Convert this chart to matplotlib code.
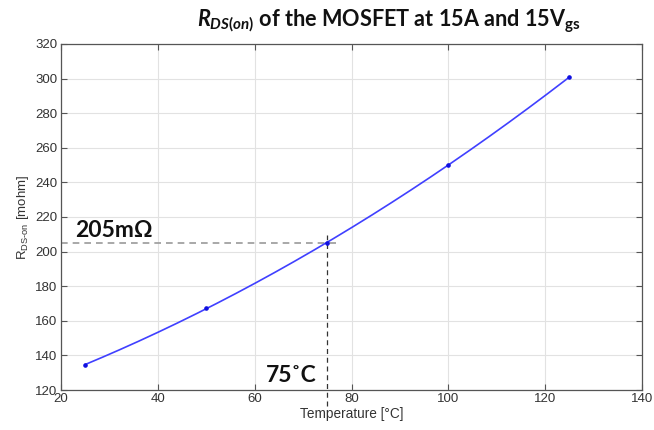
import numpy as np
import matplotlib
matplotlib.use("Agg")
import matplotlib.pyplot as plt

# Measured on-resistance vs junction temperature
temperature_c = [25, 50, 75, 100, 125]
rds_on_mohm = [134.5, 167.6, 205, 250, 301]

x_ticks = [20, 40, 60, 80, 100, 120, 140]
y_ticks = [120, 140, 160, 180, 200, 220, 240, 260, 280, 300, 320]

marked_temp = 75
marked_rds = 205

plt.rcParams["mathtext.fontset"] = "custom"
plt.rcParams["mathtext.it"] = "Lato:bold:italic"
plt.rcParams["mathtext.rm"] = "Lato:bold"
plt.rcParams["mathtext.bf"] = "Lato:bold"

fig = plt.figure(figsize=(6.54, 4.30), dpi=100)
ax = fig.add_axes([0.0933, 0.093, 0.8884, 0.8047])

# smooth trend line through the measurements
coef = np.polyfit(temperature_c, rds_on_mohm, 2)
xs = np.linspace(min(temperature_c), max(temperature_c), 200)
ax.plot(xs, np.polyval(coef, xs), color="#4040ff", lw=1.2, zorder=3)
ax.plot(temperature_c, rds_on_mohm, ls="none", marker="o", ms=2.3,
        color="#1010e0", zorder=4)

# guide lines at the operating point
ax.plot([20, marked_temp + 2.6], [marked_rds, marked_rds], ls=(0, (4, 3)),
        color="#9a9a9a", lw=1.2, zorder=2)
ax.plot([marked_temp, marked_temp], [111, marked_rds + 4.6], ls=(0, (4, 3)),
        color="#333333", lw=0.9, zorder=2, clip_on=False)

ax.text(23.0, 208.3, f"{marked_rds}m\u03a9", fontsize=16.5, fontweight="bold",
        family=["Lato", "DejaVu Sans"], color="#111111", va="baseline", ha="left")
ax.text(72.7, 124.6, f"{marked_temp}\u02daC", fontsize=16.5, fontweight="bold",
        family=["Lato", "DejaVu Sans"], color="#111111", va="baseline", ha="right")

ax.set_xlim(20, 140)
ax.set_ylim(120, 320)
ax.set_xticks(x_ticks)
ax.set_yticks(y_ticks)
ax.grid(True, color="#e2e2e2", lw=0.8, zorder=0)
ax.tick_params(direction="in", length=4.5, width=0.8, top=True, right=True,
               labelsize=9.5, labelcolor="#333333", color="#555555", pad=2.5)
for sp in ax.spines.values():
    sp.set_color("#555555")
    sp.set_linewidth(0.9)
for lab in ax.get_xticklabels() + ax.get_yticklabels():
    lab.set_family(["Liberation Sans", "DejaVu Sans"])

ax.set_xlabel("Temperature [\u00b0C]", fontsize=9.8, color="#333333",
              family=["Liberation Sans", "DejaVu Sans"], labelpad=1)
ax.set_ylabel("R$_{\\mathregular{DS\u2010on}}$ [mohm]", fontsize=9.5, color="#333333",
              family=["Liberation Sans", "DejaVu Sans"], labelpad=3)

fig.text(0.594, 0.95, r"$\mathit{R_{DS(on)}}$ of the MOSFET at 15A and 15V$_{\mathregular{gs}}$",
         fontsize=15.6, fontweight="bold", family=["Lato", "DejaVu Sans"],
         ha="center", va="center", color="#111111")

fig.savefig("out.png", dpi=100)
